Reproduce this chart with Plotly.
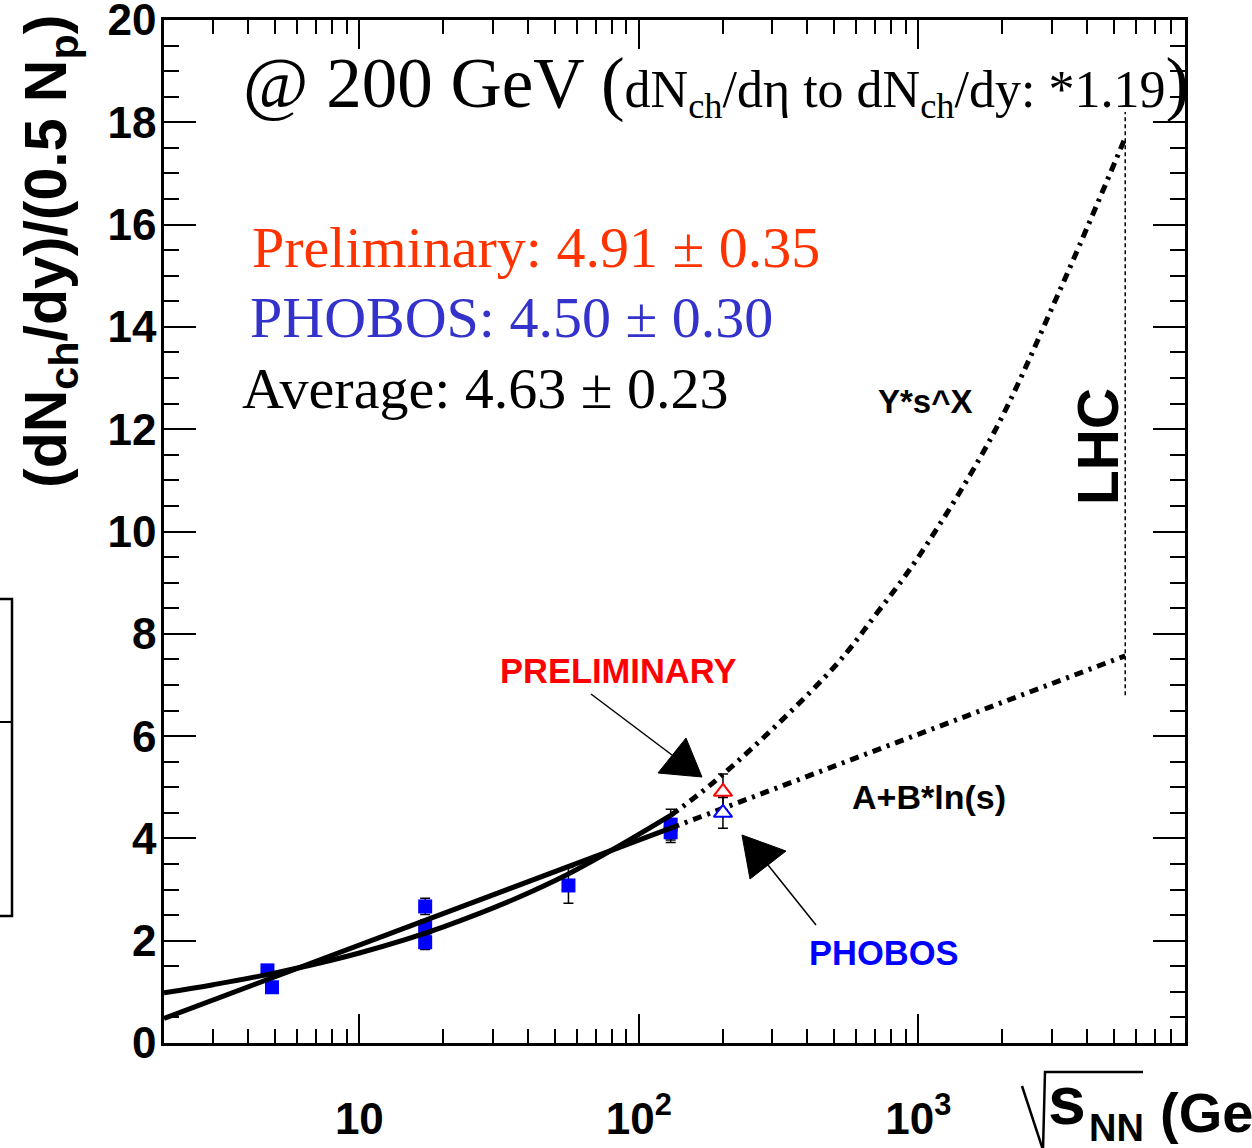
import math
import plotly.graph_objects as go

# ---- measured dN/dy per participant pair (blue squares) ----
sqrts_meas = [4.69, 4.87, 17.2, 17.2, 17.2, 56.0, 130.0, 130.0]
dndy_meas = [1.42, 1.09, 2.67, 2.26, 1.97, 3.08, 4.27, 4.12]
dndy_meas_err = [0.08, 0.08, 0.16, 0.15, 0.14, 0.35, 0.30, 0.20]

# ---- 200 GeV values ----
sqrts_200 = [200.0]
prelim_val = [4.91]
prelim_err = [0.35]
phobos_val = [4.50]
phobos_err = [0.30]

# ---- A+B*ln(s) fit: fitted range and extrapolation ----
lin_fit_sqrts = [2.0, 130.0]
lin_fit_vals = [0.48, 4.20]
lin_ext_sqrts = [130.0, 5500.0]
lin_ext_vals = [4.20, 7.57]

# ---- Y*s^X fit: fitted range and extrapolation ----
pow_fit_sqrts = [2.0, 3.0, 5.0, 10.0, 20.0, 50.0, 130.0]
pow_fit_vals = [0.98, 1.14, 1.37, 1.76, 2.27, 3.17, 4.45]
pow_ext_sqrts = [130.0, 200.0, 500.0, 710.0, 1000.0, 1850.0, 3200.0, 5500.0]
pow_ext_vals = [4.45, 5.25, 7.35, 8.40, 9.50, 11.90, 14.70, 17.70]

# ---- LHC marker line ----
lhc_sqrts = [5500.0, 5500.0]
lhc_vals = [6.8, 18.2]

# ---- axis ticks ----
y_tickvals = list(range(0, 21, 2))
x_tickvals = [10, 100, 1000]
x_ticktext = ["10", "10<sup>2</sup>", "10<sup>3</sup>"]
x_minorvals = [m * 10 ** e for e in range(0, 4) for m in range(2, 10)]

# ---- page geometry (pixels) ----
W, H = 1252, 1148
L, R, T, B = 164, 1185, 20, 1043


def px(x):
    return (x - L) / (R - L)


def py(y):
    return (B - y) / (B - T)


SANS = "Liberation Sans"
SERIF = "Liberation Serif"

fig = go.Figure()

fig.add_trace(go.Scatter(
    x=sqrts_meas, y=dndy_meas, mode="markers",
    marker=dict(symbol="square", size=14, color="#0000ff", line=dict(width=0)),
    error_y=dict(type="data", array=dndy_meas_err, color="black", thickness=1.5, width=5),
))

solid = dict(color="black", width=5)
dashdot = dict(color="black", width=5, dash="9px,6px,3px,6px")

fig.add_trace(go.Scatter(x=lin_fit_sqrts, y=lin_fit_vals, mode="lines", line=solid))
fig.add_trace(go.Scatter(x=pow_fit_sqrts, y=pow_fit_vals, mode="lines",
                         line=dict(solid, shape="spline")))
fig.add_trace(go.Scatter(x=lin_ext_sqrts, y=lin_ext_vals, mode="lines", line=dashdot))
fig.add_trace(go.Scatter(x=pow_ext_sqrts, y=pow_ext_vals, mode="lines",
                         line=dict(dashdot, shape="spline")))
fig.add_trace(go.Scatter(x=lhc_sqrts, y=lhc_vals, mode="lines",
                         line=dict(color="black", width=1.5, dash="4px,3px")))

fig.add_trace(go.Scatter(
    x=sqrts_200, y=prelim_val, mode="markers",
    marker=dict(symbol="triangle-up", size=16, color="white", line=dict(color="#ff0000", width=2)),
    error_y=dict(type="data", array=prelim_err, color="black", thickness=1.5, width=5),
))
fig.add_trace(go.Scatter(
    x=sqrts_200, y=phobos_val, mode="markers",
    marker=dict(symbol="triangle-up", size=16, color="white", line=dict(color="#0000ff", width=2)),
    error_y=dict(type="data", array=phobos_err, color="black", thickness=1.5, width=5),
))


def label(text, x, y, size, color="black", family=SANS, bold=True, xanchor="center", angle=0):
    return dict(text=text, x=px(x), y=py(y), xref="paper", yref="paper", showarrow=False,
                xanchor=xanchor, yanchor="middle", textangle=angle,
                font=dict(family=family, size=size, color=color,
                          weight="bold" if bold else "normal"))


annotations = [
    label('@ 200 GeV (<span style="font-size:52px">dN<sub>ch</sub>/dη to dN<sub>ch</sub>/dy: *1.19</span>)',
          241, 85, 71, family=SERIF, bold=False, xanchor="left"),
    label("Preliminary: 4.91 ± 0.35", 250, 247, 58, color="#ff3300", family=SERIF, bold=False, xanchor="left"),
    label("PHOBOS: 4.50 ± 0.30", 248, 318, 58, color="#3333cc", family=SERIF, bold=False, xanchor="left"),
    label("Average: 4.63 ± 0.23", 240, 388, 58, family=SERIF, bold=False, xanchor="left"),
    label("Y*s^X", 925, 401, 33),
    label("LHC", 1098, 447, 57, angle=-90),
    label("PRELIMINARY", 618, 671, 34.5, color="#ff0000"),
    label("A+B*ln(s)", 929, 797, 34),
    label("PHOBOS", 884, 953, 34.5, color="#0000ff"),
    label("(dN<sub>ch</sub>/dy)/(0.5 N<sub>p</sub>)", 50, 252, 59, angle=-90),
    label("s", 1046, 1100, 68, xanchor="left"),
    label("NN", 1087, 1128, 38, xanchor="left"),
    label("(GeV)", 1158, 1112, 56, xanchor="left"),
]


def path(points, closed=False):
    d = "M " + " L ".join(f"{px(x):.5f},{py(y):.5f}" for x, y in points)
    return d + (" Z" if closed else "")


shapes = [
    # arrow towards the preliminary point
    dict(type="path", path=path([(591, 694), (672, 755)]), xref="paper", yref="paper",
         line=dict(color="black", width=1.5)),
    dict(type="path", path=path([(686, 738), (702, 777), (658, 773)], closed=True),
         xref="paper", yref="paper", line=dict(color="black", width=1), fillcolor="black"),
    # arrow towards the PHOBOS point
    dict(type="path", path=path([(816, 925), (768, 865)]), xref="paper", yref="paper",
         line=dict(color="black", width=1.5)),
    dict(type="path", path=path([(786, 851), (742, 835), (750, 879)], closed=True),
         xref="paper", yref="paper", line=dict(color="black", width=1), fillcolor="black"),
    # radical sign of the x-axis title
    dict(type="path", path=path([(1022, 1086), (1043, 1150), (1045, 1072), (1143, 1072)]),
         xref="paper", yref="paper", line=dict(color="black", width=2.5)),
    # frame of the neighbouring pad at the left edge
    dict(type="path", path=path([(-5, 599), (12, 599), (12, 916), (-5, 916)]),
         xref="paper", yref="paper", line=dict(color="black", width=2.5)),
    dict(type="path", path=path([(-5, 722), (12, 722)]),
         xref="paper", yref="paper", line=dict(color="black", width=2)),
]

tickfont = dict(family=SANS, size=44, color="black", weight="bold")

fig.update_layout(
    width=W, height=H,
    margin=dict(l=L, r=W - R, t=T, b=H - B, autoexpand=False),
    paper_bgcolor="white", plot_bgcolor="white",
    showlegend=False,
    annotations=annotations,
    shapes=shapes,
    xaxis=dict(
        type="log", range=[math.log10(2.0), math.log10(9000.0)],
        tickmode="array", tickvals=x_tickvals, ticktext=x_ticktext,
        ticks="inside", ticklen=29, tickwidth=1.5, tickcolor="black",
        showline=True, linecolor="black", linewidth=2.5, mirror="ticks",
        showgrid=False, zeroline=False, tickfont=tickfont, ticklabelstandoff=35,
        ticklabeloverflow="allow",
        minor=dict(tickmode="array", tickvals=x_minorvals, ticks="inside", ticklen=14,
                   tickwidth=1.5, tickcolor="black", showgrid=False),
    ),
    yaxis=dict(
        range=[0, 20], tickmode="array", tickvals=y_tickvals,
        ticks="inside", ticklen=32, tickwidth=1.5, tickcolor="black",
        showline=True, linecolor="black", linewidth=2.5, mirror="ticks",
        showgrid=False, zeroline=False, tickfont=tickfont, ticklabelstandoff=-4,
        ticklabeloverflow="allow",
        minor=dict(dtick=0.5, ticks="inside", ticklen=15, tickwidth=1.5,
                   tickcolor="black", showgrid=False),
    ),
)

fig.write_html("out.html")
